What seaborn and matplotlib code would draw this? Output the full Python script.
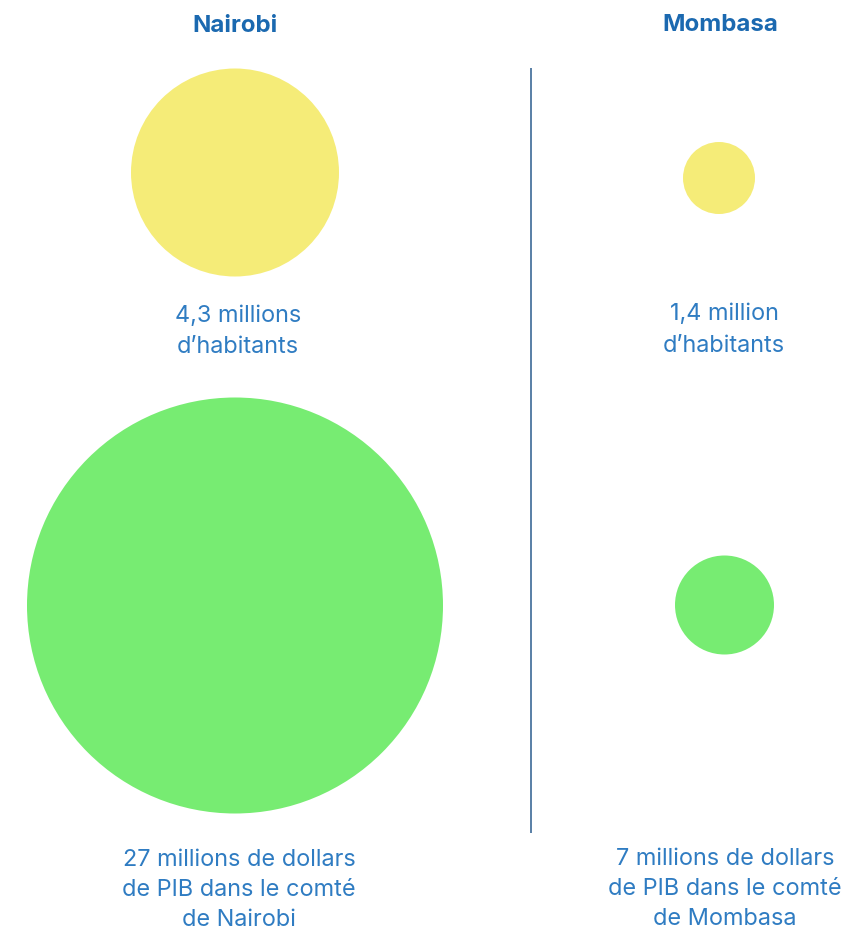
import matplotlib
matplotlib.use("Agg")
import matplotlib.pyplot as plt
import seaborn as sns
import pandas as pd

# ---- data ----
cities = ["Nairobi", "Mombasa"]
population_millions = [4.3, 1.4]
gdp_millions_usd = [27, 7]
population_labels = [["4,3 millions", "d\u2019habitants"],
                     ["1,4 million", "d\u2019habitants"]]
gdp_labels = [["27 millions de dollars", "de PIB dans le comté", "de Nairobi"],
              ["7 millions de dollars", "de PIB dans le comté", "de Mombasa"]]

# ---- layout (pixel space) ----
W, H, DPI = 848, 932, 100
pop_circle_x = [235, 719]
pop_circle_y = [172.5, 178]
pop_r = [104, 36]
gdp_circle_x = [235, 724.5]
gdp_circle_y = [605.5, 605]
gdp_r = [208, 49.5]

YELLOW = "#F5EC78"
GREEN = "#77EC72"
TITLE_BLUE = "#1B69B0"
TEXT_BLUE = "#2F7CC2"
LINE_COL = "#2B5C8E"

sns.set_theme(style="white")
plt.rcParams["font.family"] = ["Inter", "DejaVu Sans"]

fig = plt.figure(figsize=(W / DPI, H / DPI), dpi=DPI)
ax = fig.add_axes([0, 0, 1, 1])

px2pt = 72 / DPI
df = pd.DataFrame({
    "city": cities * 2,
    "metric": ["pop"] * 2 + ["gdp"] * 2,
    "value": population_millions + gdp_millions_usd,
    "x": pop_circle_x + gdp_circle_x,
    "y": pop_circle_y + gdp_circle_y,
    "r": pop_r + gdp_r,
})
df["s"] = (2 * df["r"] * px2pt) ** 2

sns.scatterplot(data=df, x="x", y="y", hue="metric",
                palette={"pop": YELLOW, "gdp": GREEN},
                s=df["s"].values, linewidth=0, legend=False, ax=ax, zorder=2)
ax.set_xlim(0, W)
ax.set_ylim(H, 0)
ax.axis("off")

# divider
ax.plot([531, 531], [68, 833], color=LINE_COL, lw=1.1, solid_capstyle="butt")

# titles (baseline positions)
title_x = [235, 720]
title_y = [32, 31]
for cx, name, ty in zip(title_x, cities, title_y):
    ax.text(cx, ty, name, ha="center", va="baseline", fontsize=17.3,
            fontweight="bold", color=TITLE_BLUE)

FS = 16.9
# population labels
pop_label_x = [238, 724]
pop_label_y = [[322, 353], [320, 352]]
for lx, lys, lines in zip(pop_label_x, pop_label_y, population_labels):
    for ly, t in zip(lys, lines):
        ax.text(lx, ly, t, ha="center", va="baseline", fontsize=FS,
                color=TEXT_BLUE)

# gdp labels
gdp_label_x = [239, 725]
gdp_label_y = [[866, 896, 925.5], [865, 895, 925]]
for lx, lys, lines in zip(gdp_label_x, gdp_label_y, gdp_labels):
    for ly, t in zip(lys, lines):
        ax.text(lx, ly, t, ha="center", va="baseline", fontsize=FS,
                color=TEXT_BLUE)

fig.savefig("out.png", dpi=DPI, facecolor="white")
